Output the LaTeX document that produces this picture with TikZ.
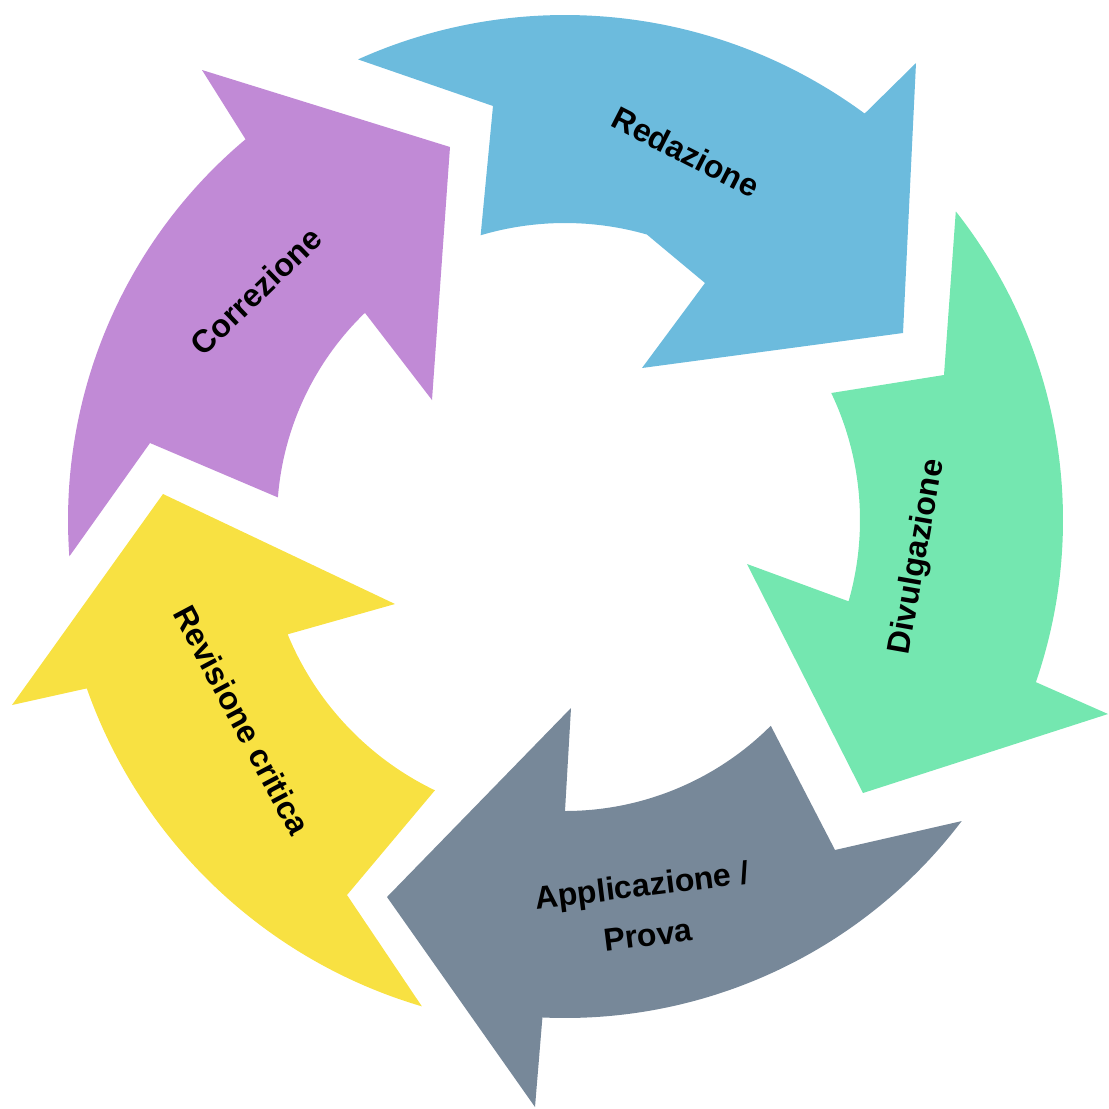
\documentclass[tikz,border=0pt]{standalone}
\usepackage{fontspec}
\setmainfont{Liberation Sans}
\definecolor{cblue}{RGB}{108,187,221}
\definecolor{cgreen}{RGB}{116,231,176}
\definecolor{cslate}{RGB}{119,136,153}
\definecolor{cyellow}{RGB}{248,225,66}
\definecolor{cpurple}{RGB}{193,138,214}
\tikzset{
  arrowshape/.style={draw=none},
  c/.style={shift={(565,520)}},
  lbl/.style={font=\fontsize{32}{38}\selectfont\bfseries, text=black, inner sep=0pt, align=center},
}
\begin{document}
\begin{tikzpicture}[x=1pt,y=-1pt]
\useasboundingbox (0,0) rectangle (1109,1109);
% Redazione (blue)
\fill[cblue,arrowshape] ([c]-114.2:505) -- (493,106) -- ([c]-106.5:297)
  arc[start angle=-106.5, end angle=-74, radius=297]
  -- (705,283) -- (642,368) -- (903,333) -- (916,63) -- ([c]-53.6:505)
  arc[start angle=-53.6, end angle=-114.2, radius=505]
  -- cycle;
% Divulgazione (green)
\fill[cgreen,arrowshape] ([c]-38.3:498) -- (944,375) -- ([c]-25.5:295)
  arc[start angle=-25.5, end angle=16, radius=295]
  -- (747,564) -- (863,793) -- (1108,714) -- ([c]19:498)
  arc[start angle=19, end angle=-38.3, radius=498]
  -- cycle;
% Applicazione (slate)
\fill[cslate,arrowshape] ([c]37.2:498) -- (835,850) -- ([c]45:291)
  arc[start angle=45, end angle=90, radius=291]
  -- (571,708) -- (387,897) -- (535,1107) -- ([c]92.6:498)
  arc[start angle=92.6, end angle=37.2, radius=498]
  -- cycle;
% Revisione critica (yellow)
\fill[cyellow,arrowshape] (163,494) -- (395,604) -- ([c]157.6:300)
  arc[start angle=157.6, end angle=115.7, radius=300]
  -- (347,895) -- ([c]106.4:507)
  arc[start angle=106.4, end angle=160.6, radius=507]
  -- (12,705) -- cycle;
% Correzione (purple)
\fill[cpurple,arrowshape] ([c]-184.2:497) -- (150,443) -- ([c]-175.5:288)
  arc[start angle=-175.5, end angle=-134, radius=288]
  -- (432,400) -- (450,147) -- (202,70) -- ([c]-130:497)
  arc[start angle=-130, end angle=-184.2, radius=497]
  -- cycle;
% labels
\node[lbl, rotate=-27] (redazione) at (686,152) {Redazione};
\node[lbl, rotate=80] (divulgazione) at (918,557) {Divulgazione};
\node[lbl, rotate=7] (applicazione) at (645,910) {Applicazione /\\[12pt]Prova};
\node[lbl, rotate=-62] (revisione) at (242,720) {Revisione critica};
\node[lbl, rotate=44] (correzione) at (256,291) {Correzione};
\end{tikzpicture}
\end{document}
